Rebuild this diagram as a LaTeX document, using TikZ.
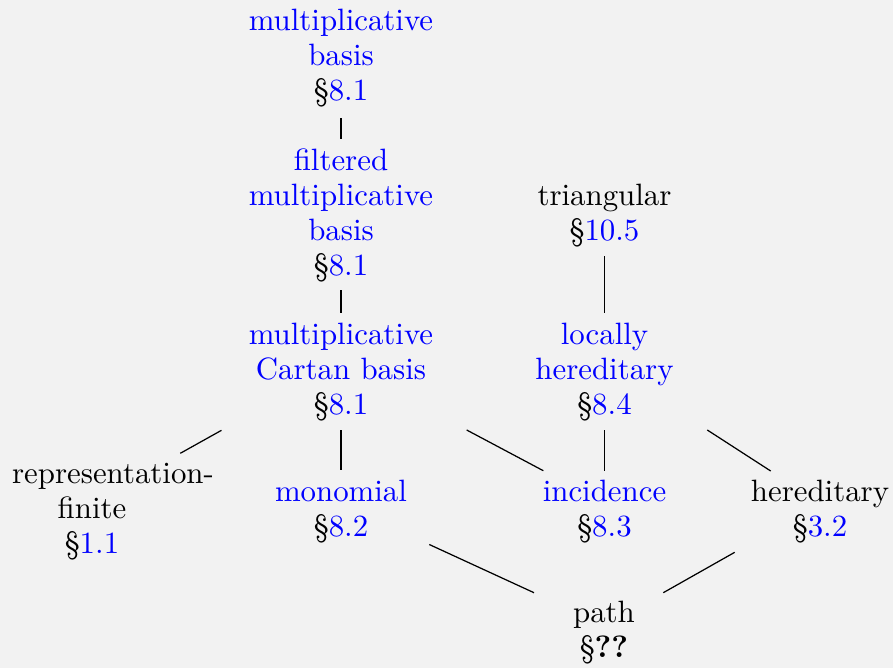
\documentclass[tikz,border=0pt]{standalone}
\usepackage{xcolor}
\definecolor{bg}{HTML}{F2F2F2}
\definecolor{lnk}{RGB}{0,0,255}
\newcommand{\lk}[1]{\textcolor{lnk}{#1}}
\begin{document}
\begin{tikzpicture}[x=0.3241pt,y=-0.3241pt,
  lbl/.style={anchor=north,inner sep=0pt,outer sep=0pt,align=center,
    font=\fontsize{10}{11.35}\selectfont},
  edge/.style={line width=0.4pt}]
\fill[bg] (0,0) rectangle (893,668);
\useasboundingbox (0,0) rectangle (893,668);
\node[lbl] (mb) at (341,5.5) {\strut\lk{multiplicative}\\\lk{basis}\\\S\lk{8.1}};
\node[lbl] (fmb) at (341,145.5) {\strut\lk{filtered}\\\lk{multiplicative}\\\lk{basis}\\\S\lk{8.1}};
\node[lbl] (mcb) at (341,319.5) {\strut\lk{multiplicative}\\\lk{Cartan basis}\\\S\lk{8.1}};
\node[lbl] (tri) at (604.5,180.5) {\strut triangular\\\S\lk{10.5}};
\node[lbl] (loc) at (604.5,319.5) {\strut\lk{locally}\\\lk{hereditary}\\\S\lk{8.4}};
\node[lbl] (rf) at (92,458.5) {\strut\hspace*{13.6pt}representation-\\finite\\\S\lk{1.1}};
\node[lbl] (mono) at (341,476.5) {\strut\lk{monomial}\\\S\lk{8.2}};
\node[lbl] (inc) at (604.5,476.5) {\strut\lk{incidence}\\\S\lk{8.3}};
\node[lbl] (her) at (820,476.5) {\strut hereditary\\\S\lk{3.2}};
\node[lbl] (path) at (604,597.5) {\strut path\\\S\textbf{??}};
\draw[edge] ([shift={(0,112.5)}]mb.north) -- ([shift={(0,-6.5)}]fmb.north);
\draw[edge] ([shift={(0,144.5)}]fmb.north) -- ([shift={(0,-6.5)}]mcb.north);
\draw[edge] ([shift={(0,75.5)}]tri.north) -- ([shift={(0,-6.5)}]loc.north);
\draw[edge] ([shift={(-119.5,110.8)}]mcb.north) -- ([shift={(88.3,-5.2)}]rf.north);
\draw[edge] ([shift={(0,110.5)}]mcb.north) -- ([shift={(0,-6.5)}]mono.north);
\draw[edge] ([shift={(125.7,110.5)}]mcb.north) -- ([shift={(-61.2,-5.8)}]inc.north);
\draw[edge] ([shift={(0,110.5)}]loc.north) -- ([shift={(0,-5.8)}]inc.north);
\draw[edge] ([shift={(102.8,110.5)}]loc.north) -- ([shift={(-49.3,-5.5)}]her.north);
\draw[edge] ([shift={(88.3,68)}]mono.north) -- ([shift={(-70,-4.8)}]path.north);
\draw[edge] ([shift={(-85.3,75.8)}]her.north) -- ([shift={(59.3,-4.8)}]path.north);
\end{tikzpicture}
\end{document}
